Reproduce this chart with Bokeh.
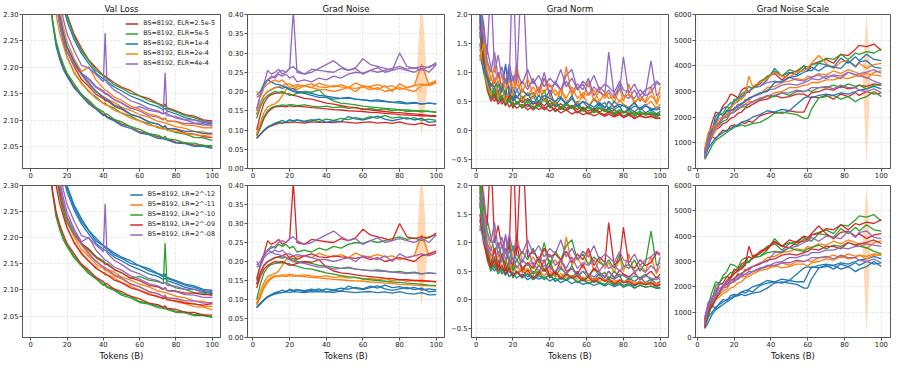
from bokeh.plotting import figure
from bokeh.layouts import column, row
from bokeh.models import Range1d, FixedTicker, Legend, LegendItem, PrintfTickFormatter
from bokeh.embed import file_html
from bokeh.resources import INLINE

# ---------------- data ----------------
# 15 runs: index of learning rate (bottom row colour) and effective LR (top row colour)
LR_IDX = [0, 0, 0, 1, 1, 1, 2, 2, 2, 3, 3, 3, 4, 4, 4]
ELR_IDX = [0, 1, 2, 0, 1, 3, 0, 2, 4, 1, 3, 4, 2, 3, 4]

ELR_LABELS = ["BS=8192, ELR=2.5e-5", "BS=8192, ELR=5e-5", "BS=8192, ELR=1e-4",
              "BS=8192, ELR=2e-4", "BS=8192, ELR=4e-4"]
LR_LABELS = ["BS=8192, LR=2^-12", "BS=8192, LR=2^-11", "BS=8192, LR=2^-10",
             "BS=8192, LR=2^-09", "BS=8192, LR=2^-08"]

TOKENS_TICKS = [0, 20, 40, 60, 80, 100]

VAL_X = [8, 10, 12, 14, 16, 18, 20, 24, 28, 32, 36, 40, 41, 42, 46, 50, 55, 60, 65, 70,
         73, 74, 75, 80, 85, 90, 95, 100]
VAL_LOSS = [
    [2.75, 2.62, 2.52, 2.44, 2.38, 2.335, 2.300, 2.262, 2.236, 2.214, 2.199, 2.185, 2.183, 2.181, 2.171, 2.163, 2.156, 2.146, 2.141, 2.132, 2.128, 2.131, 2.124, 2.118, 2.111, 2.108, 2.101, 2.099],
    [2.73, 2.60, 2.50, 2.43, 2.37, 2.330, 2.296, 2.258, 2.231, 2.213, 2.194, 2.184, 2.180, 2.179, 2.167, 2.161, 2.151, 2.146, 2.137, 2.131, 2.125, 2.128, 2.122, 2.116, 2.109, 2.105, 2.099, 2.095],
    [2.70, 2.57, 2.47, 2.40, 2.35, 2.315, 2.288, 2.252, 2.226, 2.207, 2.189, 2.178, 2.176, 2.174, 2.163, 2.156, 2.146, 2.139, 2.131, 2.126, 2.120, 2.123, 2.118, 2.112, 2.105, 2.101, 2.096, 2.093],
    [2.62, 2.50, 2.41, 2.34, 2.29, 2.256, 2.231, 2.201, 2.177, 2.164, 2.149, 2.141, 2.137, 2.137, 2.127, 2.121, 2.111, 2.106, 2.097, 2.093, 2.087, 2.090, 2.085, 2.083, 2.076, 2.074, 2.069, 2.068],
    [2.60, 2.48, 2.39, 2.33, 2.28, 2.246, 2.221, 2.189, 2.171, 2.154, 2.144, 2.132, 2.133, 2.129, 2.123, 2.114, 2.108, 2.099, 2.094, 2.086, 2.085, 2.084, 2.083, 2.077, 2.074, 2.068, 2.067, 2.062],
    [2.62, 2.50, 2.42, 2.35, 2.30, 2.263, 2.236, 2.204, 2.186, 2.167, 2.156, 2.144, 2.144, 2.140, 2.134, 2.125, 2.119, 2.111, 2.106, 2.098, 2.096, 2.095, 2.094, 2.088, 2.085, 2.079, 2.078, 2.073],
    [2.52, 2.38, 2.29, 2.245, 2.22, 2.200, 2.186, 2.164, 2.149, 2.134, 2.123, 2.111, 2.111, 2.107, 2.101, 2.093, 2.088, 2.078, 2.075, 2.069, 2.067, 2.067, 2.065, 2.059, 2.058, 2.053, 2.053, 2.049],
    [2.50, 2.37, 2.285, 2.24, 2.215, 2.196, 2.183, 2.161, 2.146, 2.131, 2.121, 2.109, 2.109, 2.105, 2.099, 2.090, 2.085, 2.076, 2.073, 2.066, 2.065, 2.064, 2.063, 2.057, 2.056, 2.051, 2.051, 2.047],
    [2.58, 2.46, 2.38, 2.32, 2.28, 2.251, 2.229, 2.206, 2.189, 2.179, 2.164, 2.156, 2.152, 2.151, 2.139, 2.133, 2.122, 2.126, 2.119, 2.116, 2.112, 2.190, 2.113, 2.104, 2.101, 2.095, 2.094, 2.089],
    [2.48, 2.36, 2.29, 2.25, 2.225, 2.206, 2.189, 2.169, 2.149, 2.138, 2.124, 2.116, 2.112, 2.112, 2.102, 2.097, 2.088, 2.083, 2.075, 2.072, 2.067, 2.070, 2.065, 2.063, 2.057, 2.057, 2.052, 2.052],
    [2.55, 2.43, 2.35, 2.30, 2.265, 2.241, 2.219, 2.191, 2.169, 2.156, 2.141, 2.133, 2.129, 2.129, 2.119, 2.114, 2.104, 2.099, 2.091, 2.088, 2.083, 2.086, 2.081, 2.079, 2.075, 2.073, 2.071, 2.074],
    [2.60, 2.48, 2.39, 2.33, 2.29, 2.261, 2.239, 2.211, 2.189, 2.176, 2.162, 2.153, 2.149, 2.149, 2.139, 2.133, 2.123, 2.118, 2.109, 2.106, 2.101, 2.104, 2.099, 2.098, 2.094, 2.094, 2.091, 2.091],
    [2.62, 2.50, 2.41, 2.35, 2.30, 2.266, 2.239, 2.211, 2.187, 2.171, 2.154, 2.144, 2.140, 2.140, 2.129, 2.123, 2.112, 2.106, 2.097, 2.093, 2.087, 2.090, 2.085, 2.084, 2.079, 2.079, 2.075, 2.076],
    [2.64, 2.52, 2.43, 2.36, 2.31, 2.276, 2.249, 2.216, 2.192, 2.201, 2.176, 2.161, 2.157, 2.156, 2.144, 2.138, 2.127, 2.121, 2.112, 2.108, 2.102, 2.105, 2.099, 2.097, 2.091, 2.090, 2.086, 2.086],
    [2.66, 2.54, 2.45, 2.38, 2.33, 2.291, 2.264, 2.231, 2.204, 2.199, 2.186, 2.173, 2.265, 2.171, 2.157, 2.149, 2.137, 2.131, 2.122, 2.118, 2.112, 2.115, 2.109, 2.107, 2.101, 2.101, 2.097, 2.097],
]

NOISE_X = [2, 4, 6, 8, 10, 12, 14, 16, 18, 20, 22, 24,
           28, 32, 36, 40, 44, 48, 52, 56, 60, 64, 68, 72, 76, 80, 84, 88, 92, 96, 100]
GRAD_NOISE = [
    [0.078, 0.088, 0.098, 0.106, 0.111, 0.114, 0.117, 0.118, 0.120, 0.119, 0.121, 0.120,
     0.118, 0.121, 0.120, 0.120, 0.119, 0.122, 0.120, 0.118, 0.120, 0.121, 0.118, 0.120, 0.117, 0.121, 0.116, 0.114, 0.118, 0.112, 0.113],
    [0.080, 0.090, 0.100, 0.108, 0.113, 0.117, 0.120, 0.118, 0.122, 0.125, 0.122, 0.126,
     0.123, 0.127, 0.122, 0.128, 0.125, 0.130, 0.127, 0.132, 0.128, 0.135, 0.130, 0.138, 0.131, 0.134, 0.128, 0.132, 0.125, 0.128, 0.125],
    [0.079, 0.089, 0.099, 0.107, 0.112, 0.118, 0.121, 0.125, 0.120, 0.127, 0.124, 0.126,
     0.121, 0.124, 0.128, 0.120, 0.124, 0.122, 0.135, 0.129, 0.126, 0.131, 0.136, 0.128, 0.124, 0.128, 0.132, 0.126, 0.130, 0.120, 0.122],
    [0.085, 0.105, 0.130, 0.145, 0.155, 0.160, 0.161, 0.162, 0.160, 0.163, 0.161, 0.162,
     0.160, 0.158, 0.157, 0.155, 0.153, 0.152, 0.150, 0.149, 0.148, 0.146, 0.145, 0.143, 0.142, 0.140, 0.139, 0.138, 0.137, 0.136, 0.135],
    [0.088, 0.110, 0.135, 0.150, 0.158, 0.162, 0.163, 0.165, 0.164, 0.166, 0.165, 0.163,
     0.165, 0.162, 0.160, 0.162, 0.158, 0.160, 0.156, 0.158, 0.153, 0.156, 0.152, 0.155, 0.150, 0.153, 0.148, 0.150, 0.147, 0.149, 0.145],
    [0.090, 0.120, 0.145, 0.160, 0.165, 0.168, 0.175, 0.190, 0.205, 0.210, 0.200, 0.213,
     0.215, 0.210, 0.222, 0.215, 0.212, 0.218, 0.210, 0.222, 0.214, 0.213, 0.218, 0.212, 0.215, 0.205, 0.210, 0.215, 0.270, 0.218, 0.225],
    [0.100, 0.140, 0.170, 0.185, 0.192, 0.195, 0.196, 0.197, 0.195, 0.194, 0.190, 0.188,
     0.182, 0.180, 0.175, 0.170, 0.167, 0.163, 0.160, 0.158, 0.155, 0.152, 0.150, 0.148, 0.146, 0.145, 0.143, 0.142, 0.140, 0.138, 0.137],
    [0.140, 0.170, 0.190, 0.200, 0.205, 0.210, 0.212, 0.208, 0.212, 0.205, 0.208, 0.200,
     0.198, 0.195, 0.190, 0.188, 0.185, 0.182, 0.183, 0.180, 0.178, 0.176, 0.178, 0.175, 0.172, 0.174, 0.170, 0.172, 0.168, 0.170, 0.168],
    [0.150, 0.190, 0.215, 0.230, 0.240, 0.235, 0.245, 0.240, 0.245, 0.235, 0.240, 0.225,
     0.230, 0.225, 0.235, 0.230, 0.240, 0.235, 0.245, 0.250, 0.248, 0.255, 0.250, 0.255, 0.260, 0.265, 0.258, 0.262, 0.255, 0.265, 0.270],
    [0.130, 0.160, 0.180, 0.190, 0.195, 0.200, 0.198, 0.200, 0.195, 0.190, 0.192, 0.195,
     0.200, 0.198, 0.205, 0.185, 0.175, 0.170, 0.168, 0.165, 0.162, 0.160, 0.158, 0.156, 0.155, 0.152, 0.152, 0.150, 0.150, 0.148, 0.147],
    [0.140, 0.170, 0.190, 0.200, 0.205, 0.210, 0.212, 0.215, 0.220, 0.210, 0.215, 0.205,
     0.215, 0.220, 0.212, 0.210, 0.215, 0.212, 0.210, 0.208, 0.212, 0.205, 0.210, 0.200, 0.205, 0.210, 0.205, 0.200, 0.215, 0.220, 0.228],
    [0.155, 0.190, 0.220, 0.255, 0.245, 0.250, 0.258, 0.245, 0.250, 0.260, 0.410, 0.250,
     0.245, 0.258, 0.255, 0.252, 0.250, 0.260, 0.255, 0.262, 0.285, 0.270, 0.265, 0.260, 0.255, 0.300, 0.265, 0.260, 0.265, 0.262, 0.275],
    [0.190, 0.200, 0.220, 0.230, 0.225, 0.220, 0.218, 0.215, 0.210, 0.205, 0.200, 0.198,
     0.195, 0.190, 0.185, 0.185, 0.180, 0.182, 0.185, 0.180, 0.178, 0.176, 0.175, 0.174, 0.172, 0.170, 0.168, 0.170, 0.167, 0.170, 0.168],
    [0.200, 0.185, 0.210, 0.220, 0.225, 0.230, 0.225, 0.230, 0.220, 0.220, 0.215, 0.218,
     0.215, 0.210, 0.205, 0.205, 0.200, 0.205, 0.210, 0.200, 0.215, 0.210, 0.205, 0.215, 0.200, 0.220, 0.210, 0.215, 0.220, 0.215, 0.222],
    [0.185, 0.190, 0.215, 0.230, 0.235, 0.240, 0.250, 0.255, 0.250, 0.260, 0.265, 0.255,
     0.245, 0.250, 0.260, 0.270, 0.280, 0.265, 0.255, 0.260, 0.245, 0.255, 0.262, 0.250, 0.255, 0.260, 0.255, 0.250, 0.260, 0.250, 0.270],
]
NOISE_BAND_RUN = 5
NOISE_BAND_X = [89, 92, 95]
NOISE_BAND_LO = [0.205, 0.085, 0.205]
NOISE_BAND_HI = [0.225, 0.460, 0.225]

NORM_X = [2, 4, 6, 8, 10, 12, 14, 16, 18, 20, 22, 25, 28, 31, 34, 37, 40, 43, 46, 49,
          52, 55, 58, 61, 64, 67, 70, 72, 75, 78, 80, 83, 86, 89, 92, 95, 98, 100]
GRAD_NORM = [
    [1.90, 1.20, 0.75, 0.60, 0.50, 0.62, 0.45, 0.55, 0.40, 0.48, 0.38, 0.45, 0.35, 0.42, 0.36, 0.40, 0.33, 0.38, 0.30, 0.35,
     0.28, 0.33, 0.27, 0.30, 0.25, 0.29, 0.24, 0.28, 0.23, 0.27, 0.22, 0.26, 0.21, 0.25, 0.22, 0.24, 0.20, 0.22],
    [1.70, 1.10, 0.80, 0.55, 0.65, 0.50, 0.58, 0.45, 0.52, 0.40, 0.50, 0.38, 0.46, 0.35, 0.42, 0.38, 0.44, 0.32, 0.38, 0.34,
     0.40, 0.30, 0.35, 0.28, 0.33, 0.30, 0.27, 0.32, 0.26, 0.30, 0.25, 0.29, 0.24, 0.30, 0.26, 0.28, 0.23, 0.27],
    [2.10, 1.40, 0.90, 0.70, 0.55, 0.70, 0.50, 0.60, 0.48, 0.62, 0.45, 0.52, 0.40, 0.50, 0.42, 0.55, 0.38, 0.48, 0.36, 0.44,
     0.38, 0.50, 0.34, 0.42, 0.35, 0.45, 0.33, 0.40, 0.36, 0.42, 0.30, 0.38, 0.32, 0.40, 0.30, 0.36, 0.28, 0.33],
    [2.30, 1.50, 1.00, 0.75, 0.90, 0.60, 0.75, 0.55, 0.65, 0.50, 0.60, 0.48, 0.55, 0.45, 0.50, 0.42, 0.52, 0.40, 0.46, 0.38,
     0.43, 0.36, 0.40, 0.33, 0.38, 0.32, 0.36, 0.30, 0.35, 0.29, 0.33, 0.28, 0.32, 0.27, 0.30, 0.26, 0.29, 0.25],
    [1.95, 1.30, 0.95, 0.70, 0.60, 0.80, 0.55, 0.70, 0.50, 0.62, 0.45, 0.58, 0.48, 0.60, 0.42, 0.55, 0.45, 0.50, 0.40, 0.48,
     0.38, 0.45, 0.36, 0.42, 0.34, 0.40, 0.32, 0.38, 0.30, 0.36, 0.30, 0.35, 0.28, 0.33, 0.27, 0.32, 0.26, 0.30],
    [2.40, 1.60, 1.15, 0.90, 0.80, 1.00, 0.70, 0.85, 0.65, 0.80, 1.12, 0.70, 0.60, 0.75, 0.58, 0.90, 0.60, 0.70, 0.55, 1.10,
     0.60, 0.75, 0.55, 0.85, 0.50, 0.70, 0.55, 0.65, 0.48, 0.72, 0.50, 0.80, 0.45, 0.60, 0.50, 0.75, 0.45, 0.60],
    [1.80, 1.10, 0.70, 0.50, 0.62, 0.45, 0.55, 0.42, 0.60, 0.38, 0.50, 0.40, 0.45, 0.36, 0.50, 0.35, 0.45, 0.33, 0.40, 0.35,
     0.42, 0.30, 0.38, 0.28, 0.35, 0.30, 0.26, 0.33, 0.25, 0.30, 0.22, 0.28, 0.20, 0.26, 0.22, 0.24, 0.21, 0.20],
    [2.00, 1.35, 0.90, 0.60, 0.75, 0.55, 0.80, 0.60, 1.10, 0.50, 0.70, 0.55, 0.65, 0.45, 0.60, 0.50, 0.70, 0.42, 0.55, 0.45,
     0.60, 0.40, 0.50, 0.38, 0.55, 0.42, 0.48, 0.36, 0.50, 0.40, 0.45, 0.35, 0.42, 0.38, 0.45, 0.34, 0.40, 0.35],
    [2.30, 1.60, 1.40, 1.10, 0.85, 1.00, 0.75, 0.90, 0.70, 0.95, 0.68, 0.85, 0.70, 0.90, 0.65, 1.00, 0.60, 0.85, 0.70, 0.95,
     1.05, 0.70, 0.80, 0.62, 0.75, 0.65, 0.60, 0.70, 0.55, 0.80, 0.60, 0.55, 0.70, 0.50, 0.65, 1.20, 0.60, 0.65],
    [1.50, 1.00, 0.75, 0.55, 0.70, 0.50, 0.60, 0.45, 0.55, 0.42, 0.50, 0.40, 0.52, 0.38, 0.45, 0.70, 0.40, 0.50, 0.36, 0.45,
     0.38, 0.42, 0.33, 0.40, 0.30, 0.38, 0.32, 0.36, 0.28, 0.34, 0.30, 0.32, 0.26, 0.30, 0.27, 0.30, 0.24, 0.27],
    [1.40, 1.05, 0.80, 0.60, 0.90, 0.55, 0.80, 0.50, 0.70, 0.60, 1.00, 0.50, 0.65, 0.55, 0.75, 0.50, 0.60, 0.45, 0.70, 0.50,
     0.55, 0.45, 0.62, 0.42, 0.55, 0.48, 0.40, 0.50, 0.38, 0.52, 0.45, 0.40, 0.48, 0.35, 0.42, 0.50, 0.38, 0.45],
    [2.50, 1.80, 1.30, 2.60, 1.00, 1.30, 0.90, 1.10, 0.85, 3.00, 0.80, 3.00, 0.75, 0.85, 0.70, 0.90, 0.75, 0.80, 0.70, 0.85,
     0.65, 0.80, 0.70, 0.90, 0.60, 0.75, 0.65, 1.35, 0.60, 0.70, 1.27, 0.60, 0.55, 0.70, 0.60, 0.65, 0.82, 0.78],
    [1.30, 1.05, 0.90, 0.80, 0.75, 0.85, 0.65, 1.15, 0.60, 0.75, 0.55, 0.70, 0.60, 0.65, 0.50, 0.60, 0.55, 0.50, 0.58, 0.45,
     0.55, 0.42, 0.50, 0.45, 0.40, 0.48, 0.38, 0.50, 0.40, 0.45, 0.42, 0.38, 0.48, 0.35, 0.42, 0.38, 0.35, 0.40],
    [1.20, 1.50, 1.00, 0.85, 1.10, 0.80, 0.95, 0.70, 0.85, 0.70, 0.80, 0.65, 0.90, 0.60, 0.75, 0.65, 0.80, 0.60, 0.70, 0.55,
     0.75, 0.55, 0.65, 0.60, 0.70, 0.50, 0.65, 0.55, 0.60, 0.50, 0.58, 0.62, 0.50, 0.55, 0.48, 0.60, 0.50, 0.75],
    [1.60, 1.90, 1.20, 1.00, 1.35, 0.90, 1.10, 0.80, 1.15, 0.85, 1.00, 0.80, 1.05, 0.80, 0.95, 0.75, 0.90, 0.80, 1.05, 0.75,
     0.90, 0.70, 0.85, 0.75, 0.95, 0.70, 0.80, 0.75, 0.65, 0.85, 0.70, 0.65, 0.80, 0.60, 0.70, 0.75, 0.85, 0.80],
]

GNS_X = [4, 6, 8, 10, 12, 14, 16, 18, 20, 22, 24, 26, 28, 30, 34, 38, 42, 46, 50, 54, 58,
         60, 62, 66, 70, 74, 78, 82, 86, 88, 92, 96, 100]
GNS = [
    [400, 900, 1250, 1150, 1350, 1500, 1450, 1650, 1700, 1650, 1800, 1750, 1850, 1800, 2050, 2150, 2200, 2150, 2250, 2200, 2200,
     2500, 2800, 2750, 2850, 2700, 2900, 2800, 2950, 2850, 3000, 2900, 2950],
    [350, 600, 900, 1100, 1200, 1300, 1400, 1500, 1600, 1650, 1700, 1650, 1700, 1750, 1800, 1950, 2150, 2200, 2150, 2100, 1950,
     1950, 2300, 2750, 2800, 2850, 2700, 2800, 2600, 2700, 2800, 3000, 2800],
    [500, 800, 1000, 1200, 1300, 1400, 1500, 1550, 1650, 1700, 1800, 1850, 1900, 2000, 2100, 2250, 2200, 2300, 2250, 2500, 2750,
     2800, 2750, 2850, 2900, 2850, 2950, 2900, 3000, 3050, 3100, 3200, 3100],
    [500, 1300, 1400, 1500, 1600, 1750, 1800, 1950, 2000, 2150, 2200, 2350, 2400, 2500, 2650, 2700, 2850, 2750, 2800, 2900, 2900,
     2800, 2950, 3000, 3100, 3050, 3200, 3100, 3150, 3250, 3200, 3300, 3250],
    [400, 1100, 1300, 1550, 1700, 1850, 1900, 2150, 2200, 2300, 2400, 2400, 2500, 2600, 2700, 2800, 2800, 2950, 2850, 3000, 3000,
     3050, 3000, 3150, 3150, 3250, 3150, 3300, 3200, 3250, 3100, 3250, 3250],
    [600, 1400, 1250, 1650, 1750, 2050, 2000, 2300, 2250, 2500, 2450, 2700, 2650, 2800, 2900, 3150, 3200, 3350, 3400, 3500, 3450,
     3600, 3550, 3700, 3650, 3800, 3700, 3850, 3750, 3700, 3500, 3750, 3800],
    [700, 1300, 1800, 2200, 2150, 2450, 2600, 2900, 2850, 2750, 3050, 3150, 2950, 3150, 3300, 3600, 3700, 3450, 3700, 3800, 4000,
     3800, 4050, 4150, 4250, 4100, 4450, 4400, 4650, 4800, 4750, 4850, 4600],
    [400, 800, 1500, 2050, 2150, 2350, 2400, 2550, 2600, 2750, 2800, 2950, 3000, 3150, 3200, 3450, 3900, 3600, 3750, 3650, 3900,
     3850, 3800, 4100, 4050, 3950, 4300, 4100, 4350, 4200, 4450, 4250, 4200],
    [500, 900, 1300, 1500, 1750, 2000, 2250, 2400, 2550, 2600, 2750, 2900, 3000, 3150, 3200, 3350, 3400, 3350, 3550, 3450, 3400,
     3500, 3550, 3650, 3500, 3650, 3600, 3750, 3650, 3600, 3550, 3400, 3300],
    [600, 1100, 1550, 1750, 2100, 2150, 2400, 2350, 2700, 2650, 2900, 3000, 3200, 3100, 3400, 3550, 3800, 3600, 3850, 3750, 4000,
     3950, 4050, 4100, 4300, 4250, 4450, 4250, 4500, 4450, 4550, 4500, 4650],
    [700, 1300, 1200, 1500, 1800, 2050, 2200, 2350, 2500, 2650, 2700, 2850, 3600, 3200, 3350, 3500, 3750, 3600, 3550, 3750, 3800,
     3900, 4100, 4400, 4100, 3900, 4150, 4200, 4000, 4100, 3900, 4050, 4100],
    [400, 1000, 1400, 1650, 1800, 2050, 2100, 2250, 2300, 2500, 2500, 2650, 2700, 2800, 2900, 3050, 3100, 3250, 3300, 3250, 3350,
     3400, 3500, 3450, 3600, 3600, 3500, 3750, 3650, 3700, 3750, 3850, 3700],
    [600, 1200, 1550, 1850, 2150, 2050, 2250, 2250, 2350, 2400, 2550, 2600, 2750, 2800, 2950, 3000, 3350, 3400, 3550, 3600, 3750,
     3800, 3950, 3800, 4000, 3950, 3900, 4200, 3950, 4150, 4200, 3950, 3900],
    [800, 1400, 1600, 1700, 1950, 2000, 2150, 2150, 2250, 2300, 2450, 2500, 2600, 2600, 2750, 2800, 2950, 3000, 3150, 3150, 3250,
     3250, 3350, 3350, 3450, 3450, 3550, 3500, 3600, 3600, 3700, 3650, 3600],
    [500, 1200, 1400, 1650, 1800, 1950, 2000, 2150, 2200, 2350, 2400, 2500, 2500, 2600, 2700, 2850, 2850, 2950, 2950, 3050, 3000,
     3050, 3150, 3150, 3200, 3100, 3250, 3150, 3150, 3050, 3000, 3100, 2950],
]
GNS_BAND_RUN = 5
GNS_BAND_X = [90, 92, 94]
GNS_BAND_LO = [3450, 150, 3450]
GNS_BAND_HI = [3800, 6000, 3800]

# ---------------- styling ----------------
ELR_COLORS = ["#d62728", "#2ca02c", "#1f77b4", "#ff7f0e", "#9467bd"]
LR_COLORS = ["#1f77b4", "#ff7f0e", "#2ca02c", "#d62728", "#9467bd"]
FONT = "DejaVu Sans"
TEXT = "#222222"
SPINE = "#555555"

PANELS = [
    dict(title="Val Loss", xs=VAL_X, ys=VAL_LOSS, xr=(-4.5, 104.5), yr=(2.009, 2.30),
         yt=[2.05, 2.10, 2.15, 2.20, 2.25, 2.30], fmt="%.2f", band=None),
    dict(title="Grad Noise", xs=NOISE_X, ys=GRAD_NOISE, xr=(-3.0, 104.5), yr=(0.0, 0.40),
         yt=[0.0, 0.05, 0.10, 0.15, 0.20, 0.25, 0.30, 0.35, 0.40], fmt="%.2f",
         band=(NOISE_BAND_RUN, NOISE_BAND_X, NOISE_BAND_LO, NOISE_BAND_HI)),
    dict(title="Grad Norm", xs=NORM_X, ys=GRAD_NORM, xr=(-2.5, 104.5), yr=(-0.66, 2.0),
         yt=[-0.5, 0.0, 0.5, 1.0, 1.5, 2.0], fmt="%.1f", band=None),
    dict(title="Grad Noise Scale", xs=GNS_X, ys=GNS, xr=(-1.0, 105.0), yr=(0, 6000),
         yt=[0, 1000, 2000, 3000, 4000, 5000, 6000], fmt="%d",
         band=(GNS_BAND_RUN, GNS_BAND_X, GNS_BAND_LO, GNS_BAND_HI)),
]

WIDTHS = [223, 224, 224, 226]
LEFT_B = [22, 24, 24, 24]
RIGHT_B = [3, 3, 3, 7]


def make(col, bottom):
    cfg = PANELS[col]
    colors = LR_COLORS if bottom else ELR_COLORS
    cidx = LR_IDX if bottom else ELR_IDX
    p = figure(width=WIDTHS[col], height=182 if bottom else 181,
               output_backend="svg", toolbar_location=None,
               x_range=Range1d(*cfg["xr"]), y_range=Range1d(*cfg["yr"]),
               min_border_left=LEFT_B[col], min_border_right=RIGHT_B[col],
               min_border_top=4 if bottom else 13, min_border_bottom=24 if bottom else 13)
    p.background_fill_color = "white"
    p.border_fill_color = "white"
    p.outline_line_color = SPINE
    p.outline_line_width = 1
    if not bottom:
        p.title.text = cfg["title"]
        p.title.align = "center"
        p.title.text_font = FONT
        p.title.text_font_size = "8.5px"
        p.title.text_font_style = "normal"
        p.title.text_color = "#111111"
        p.title.standoff = 2
    for ax in (p.xaxis[0], p.yaxis[0]):
        ax.axis_line_color = SPINE
        ax.major_tick_line_color = SPINE
        ax.major_tick_out = 3
        ax.major_tick_in = 0
        ax.minor_tick_line_color = None
        ax.major_label_text_font = FONT
        ax.major_label_text_font_size = "6.8px"
        ax.major_label_text_color = TEXT
        ax.major_label_standoff = 1
    p.xaxis.ticker = FixedTicker(ticks=TOKENS_TICKS)
    p.xaxis.formatter = PrintfTickFormatter(format="%d")
    p.yaxis.ticker = FixedTicker(ticks=cfg["yt"])
    p.yaxis.formatter = PrintfTickFormatter(format=cfg["fmt"])
    if cfg["yt"][0] < 0:
        p.yaxis.major_label_overrides = {t: ("\u2212" + (cfg["fmt"] % abs(t))) for t in cfg["yt"] if t < 0}
    if bottom:
        p.xaxis.axis_label = "Tokens (B)"
        p.xaxis.axis_label_text_font = FONT
        p.xaxis.axis_label_text_font_size = "8.5px"
        p.xaxis.axis_label_text_font_style = "normal"
        p.xaxis.axis_label_text_color = "#111111"
        p.xaxis.axis_label_standoff = 1
    for g in (p.xgrid[0], p.ygrid[0]):
        g.grid_line_color = "#cccccc"
        g.grid_line_alpha = 0.7
        g.grid_line_dash = "2 2"
        g.grid_line_width = 0.8

    if cfg["band"] is not None:
        run, bx, lo, hi = cfg["band"]
        p.varea(x=bx, y1=lo, y2=hi, fill_color=colors[cidx[run]], fill_alpha=0.3)

    renderers = []
    for r, ys in enumerate(cfg["ys"]):
        n = min(len(cfg["xs"]), len(ys))
        rr = p.line(cfg["xs"][:n], ys[:n], line_color=colors[cidx[r]], line_width=1.3)
        renderers.append(rr)

    if col == 0:
        labels = LR_LABELS if bottom else ELR_LABELS
        items = []
        for g, lab in enumerate(labels):
            first = [renderers[r] for r in range(len(renderers)) if cidx[r] == g][:1]
            items.append(LegendItem(label=lab, renderers=first))
        leg = Legend(items=items, location="top_right")
        leg.label_text_font = FONT
        leg.label_text_font_size = "6.4px"
        leg.label_text_color = TEXT
        leg.glyph_width = 13
        leg.glyph_height = 7
        leg.label_height = 7
        leg.label_standoff = 5
        leg.spacing = 2
        leg.padding = 3
        leg.margin = 2
        leg.border_line_alpha = 0
        leg.background_fill_color = "white"
        leg.background_fill_alpha = 0.8
        p.add_layout(leg)
    return p


top = [make(c, False) for c in range(4)]
bot = [make(c, True) for c in range(4)]
layout = column(row(*top), row(*bot))
open("out.html", "w").write(file_html(layout, INLINE, "chart"))
